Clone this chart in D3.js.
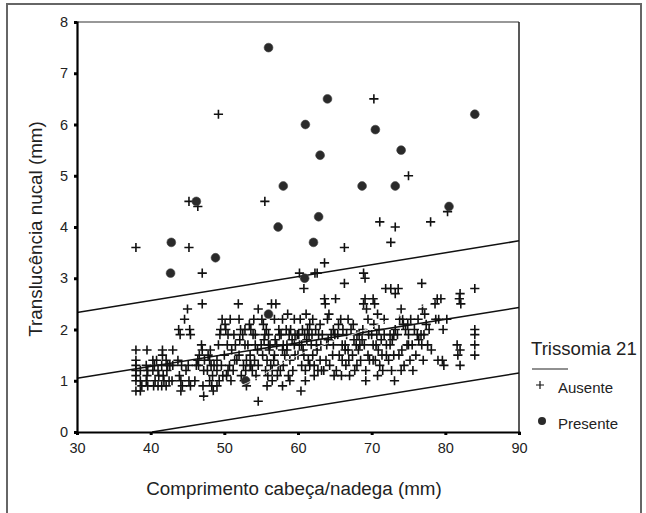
<!DOCTYPE html>
<html>
<head>
<meta charset="utf-8">
<script src="https://cdn.jsdelivr.net/npm/d3@7"></script>
<style>
  html, body { margin: 0; padding: 0; background: #fff; }
  svg { display: block; font-family: "Liberation Sans", Arial, sans-serif; }
</style>
</head>
<body>
<svg id="chart" width="646" height="513"></svg>
<script>
// ---------- DATA ----------
const xTicks = [30, 40, 50, 60, 70, 80, 90];
const yTicks = [0, 1, 2, 3, 4, 5, 6, 7, 8];

// Trissomia 21 = Ausente (CRL mm, NT mm)
const ausente = [
  [38,3.6],[45.2,4.5],[46.4,4.4],[45.2,3.6],[47,3.1],[49.2,6.2],[55.5,4.5],
  [60.2,3.1],[62.3,3.1],[62.6,3.1],[63.6,3.3],[66.3,3.6],[60.8,2.8],
  [70.3,6.5],[75,5.0],[71.1,4.1],[73.2,4.0],[72.6,3.7],[78,4.1],[80.3,4.3],[68.9,3.1],[69.1,3.0],
  [47,2.5],
  [38,1.6],[38,1.4],[38,1.3],[38,1.2],[38,1.1],[38,1.0],[38,0.8],[38.6,1.2],[38.6,1.0],[38.6,0.8],[38.8,0.9],
  [39.5,1.6],[39.4,1.3],[39.6,1.2],[39.5,1.1],[39.4,1.0],[39.6,0.9],
  [40.3,1.4],[40.5,1.3],[40.3,1.2],[40.6,1.0],[40.4,0.9],[41,1.2],[41.1,1.1],[41,0.9],[40.8,1.4],
  [41.6,1.6],[41.6,1.5],[41.5,1.3],[41.7,1.1],[41.5,0.9],[41.8,1.0],
  [42.1,1.4],[42.3,1.3],[42.2,1.2],[42.5,1.0],[42.1,0.9],[42.6,1.3],
  [43,1.6],[43,1.3],[42.9,1.0],
  [43.8,2.0],[44,1.9],[43.7,1.4],[44.2,1.3],[43.9,1.1],[44.1,1.0],[44.1,0.8],[44.3,0.9],
  [45.3,2.0],[45.4,1.9],[45,2.4],[44.6,2.2],[45.1,1.3],[45.2,1.0],[45.4,0.9],[44.8,1.2],
  [46.9,1.7],[47,1.6],[46.6,1.5],[46.4,1.4],[46.2,1.3],[47.2,1.2],[47.3,1.4],[46.5,1.3],[47.1,0.9],[47.2,0.7],
  [47.8,1.5],[48,1.4],[48.2,1.3],[47.7,1.2],[48.4,1.1],[48,1.0],[48.3,0.9],[48.5,0.8],[48.6,1.3],[48.1,1.6],
  [49.5,2.0],[49.4,1.9],[49.2,1.7],[49,1.4],[49.6,1.3],[49.8,1.1],[49.3,1.0],[49.7,2.2],
  [50.8,2.2],[50.2,2.0],[50.5,1.9],[50.4,1.7],[51,1.6],[50.7,1.3],[51.2,1.2],[50.3,1.1],[50.9,1.0],[51.3,1.9],[50.1,2.1],
  [51.9,2.5],[52.2,2.0],[52.5,1.9],[52.8,1.7],[52,1.5],[51.7,1.4],[52.6,1.3],[52.9,1.2],[52.3,1.1],[52.7,1.0],[53,0.9],[52.1,1.8],[52.8,2.0],
  [53.4,2.1],[53.6,2.0],[53.9,1.9],[54.2,1.7],[54.5,1.6],[53.5,1.5],[54.1,1.4],[54.6,1.3],[53.8,1.2],[54.3,1.1],[54.6,0.6],[54.6,2.4],[54.2,1.9],[53.6,1.3],
  [55.1,2.2],[55.3,2.1],[55.7,2.0],[56,1.9],[55.4,1.8],[56.2,1.7],[55.2,1.5],[55.8,1.4],[56.3,1.3],[55.6,1.2],[55.9,1.1],[55.8,0.9],[56.4,2.5],[56.1,1.6],[55.5,1.9],
  [57,2.5],[56.8,2.2],[57.4,2.0],[57.7,1.9],[57.1,1.7],[57.9,1.6],[56.7,1.4],[57.3,1.3],[57.6,1.2],[57.2,1.1],[57.9,0.9],[57.5,1.9],[56.9,1.8],
  [58.6,2.3],[58.4,2.0],[58.8,1.9],[59.2,1.8],[59.5,1.7],[58.5,1.6],[59.6,1.5],[58.9,1.4],[59.3,1.2],[58.7,1.1],[59,2.0],[59.6,1.9],
  [61.1,2.3],[60.3,2.2],[60.6,2.0],[60.9,1.9],[61.2,1.8],[60.2,1.7],[60.8,1.5],[61.4,1.4],[60.5,1.3],[61,1.2],[61,1.0],[60.4,0.8],[60.1,1.9],[61.3,2.0],[60.7,1.6],
  [62,2.2],[62.4,2.0],[62.8,1.9],[61.8,1.7],[62.6,1.6],[63,1.4],[62.2,1.3],[62.7,1.2],[61.9,1.9],[63.1,1.7],
  [63.6,2.6],[63.7,2.5],[64.2,2.3],[64,2.2],[64.5,1.9],[63.9,1.7],[64.7,1.5],[64.3,1.3],[63.5,1.2],[64.8,2.0],[64.1,1.8],
  [65.1,2.6],[65.8,2.2],[66.1,2.0],[65.4,1.9],[66.4,1.7],[65.6,1.5],[66,1.4],[65.2,1.2],[65.9,1.1],[66.3,2.9],[66.4,1.6],
  [66.8,2.2],[67.2,2.0],[67.6,1.8],[67.9,1.7],[67.4,1.5],[66.9,1.4],[67.7,1.2],[68,1.9],
  [69.1,2.6],[68.9,2.5],[69.3,2.4],[69.6,1.9],[68.7,1.8],[69,1.7],[69.5,1.5],[68.5,1.4],[69.2,1.2],[69.2,1.0],[68.8,2.0],[69.7,1.4],
  [70.2,2.6],[70.4,2.5],[70.8,2.3],[70.3,2.1],[71,2.0],[71.3,1.8],[70.6,1.7],[70.9,1.6],[71.4,1.5],[70.2,1.4],[71.1,1.3],[70.7,1.9],
  [71.9,2.8],[72.5,1.9],[72.8,1.8],[72,1.7],[73,1.5],[72.3,1.4],[72.7,1.2],[73.1,1.0],[73.2,2.7],[72.6,2.8],
  [73.6,2.8],[74,2.4],[73.8,2.2],[74.3,2.1],[74.6,2.0],[73.5,1.9],[74.8,1.7],[74.1,1.6],[73.7,1.5],[74.4,1.3],[74.2,2.2],[74.9,2.1],
  [75.3,2.2],[75.8,2.0],[76.2,1.9],[75.5,1.7],[76,1.5],[75.6,1.2],[76.4,1.8],
  [76.8,2.9],[76.9,2.4],[77.4,2.1],[77.8,2.0],[77.1,1.9],[77.6,1.7],[78.1,1.6],[77.2,2.3],
  [78.9,2.6],[79.4,2.6],[78.6,2.5],[79.1,2.2],[79.7,2.0],[79,1.4],[79.8,1.3],[79.6,1.4],[78.7,2.2],[80.2,2.2],
  [82,2.7],[81.9,2.6],[82.1,2.5],[81.6,1.7],[82,1.6],[81.7,1.5],[82,1.3],
  [84,2.8],[84,2.0],[84,1.9],[84,1.7],[84,1.5],
  // extra points in the dense band
  [51.5,1.7],[53.2,1.7],[55,1.7],[58,1.7],[59.9,1.9],[61.5,1.9],[63.3,1.9],[65,1.9],[66.6,1.9],
  [68.3,1.9],[70,1.9],[71.7,1.9],[73,1.9],[75,1.9],[76.7,1.9],
  [56,1.7],[58.5,1.7],[60.5,1.7],[62.5,1.7],[64.8,1.7],[66,1.7],[68.4,1.7],[70.2,1.7],[72.5,1.7],[75,1.7],[76.8,1.7],
  [50,1.5],[51.4,1.4],[53,1.4],[56.8,1.5],[58.2,1.5],[60,1.5],[62,1.5],[63.8,1.4],[66.8,1.6],[68.2,1.6],
  [70.5,1.4],[72,1.5],[75.2,1.4],[77,1.4],
  [49,1.2],[50.5,1.2],[53.5,1.3],[56.5,1.2],[58,1.3],[61.6,1.3],[63.2,1.2],[66.5,1.3],[68,1.3],[71.5,1.2],[74,1.2],
  [46,1.0],[49,0.9],[56.5,1.0],[58.9,1.0],[62.2,1.1],[64.9,1.1],[67,1.1],[70.8,1.1],
  [52,2.2],[54,2.2],[57.9,2.2],[59.5,2.2],[61.6,2.1],[63,2.1],[65.5,2.1],[67.5,2.1],[69.5,2.2],[71.7,2.2],[73.2,2.0],[76.3,2.2]
];

// Trissomia 21 = Presente
const presente = [
  [56,7.5],[64,6.5],[61,6.0],[70.5,5.9],[84,6.2],[74,5.5],[63,5.4],[58,4.8],[68.7,4.8],[73.2,4.8],
  [46.2,4.5],[80.5,4.4],[62.8,4.2],[57.3,4.0],[42.8,3.7],[62.1,3.7],[48.8,3.4],[42.7,3.1],[60.9,3.0],
  [56,2.3],[52.9,1.0]
];

// Regression line and bounds (endpoints in data units)
const upperLine = [[30, 2.33], [90, 3.73]];
const meanLine  = [[30, 1.05], [90, 2.43]];
const lowerLine = [[40.2, 0.0], [90, 1.15]];
// faint white smoother visible only over the markers
const whiteLine = [[47.2, 0.65], [53, 0.95], [60, 1.5], [68.5, 1.96], [78.5, 2.55]];

// ---------- DRAW ----------
const svg = d3.select("#chart");
const x = d3.scaleLinear().domain([30, 90]).range([77, 519]);
const y = d3.scaleLinear().domain([0, 8]).range([432, 22]);

// outer border
svg.append("rect").attr("x", 7).attr("y", 4).attr("width", 634).attr("height", 530)
  .attr("fill", "none").attr("stroke", "#666").attr("stroke-width", 2);

// frame top/right
svg.append("line").attr("x1", x(30)).attr("x2", x(90)).attr("y1", y(8)).attr("y2", y(8))
  .attr("stroke", "#333").attr("stroke-width", 1.2);
svg.append("line").attr("x1", x(90)).attr("x2", x(90)).attr("y1", y(8)).attr("y2", y(0))
  .attr("stroke", "#222").attr("stroke-width", 1.5);

// lines
const lineGen = d3.line().x(d => x(d[0])).y(d => y(d[1]));
[upperLine, meanLine, lowerLine].forEach(l => {
  svg.append("path").attr("d", lineGen(l)).attr("fill", "none")
    .attr("stroke", "#111").attr("stroke-width", 1.5);
});

// ausente markers (plus)
const plusSize = 4.6;
svg.append("g").selectAll("path").data(ausente).join("path")
  .attr("d", d => {
    const cx = x(d[0]), cy = y(d[1]);
    return `M${cx - plusSize},${cy}H${cx + plusSize}M${cx},${cy - plusSize}V${cy + plusSize}`;
  })
  .attr("stroke", "#111").attr("stroke-width", 1.6).attr("fill", "none");

// presente markers
svg.append("g").selectAll("circle").data(presente).join("circle")
  .attr("cx", d => x(d[0])).attr("cy", d => y(d[1])).attr("r", 4.4)
  .attr("fill", "#2a2a2a").attr("stroke", "#444").attr("stroke-width", 0.6);

// white smoother
svg.append("path").attr("d", d3.line().curve(d3.curveMonotoneX).x(d => x(d[0])).y(d => y(d[1]))(whiteLine))
  .attr("fill", "none").attr("stroke", "#fff").attr("stroke-width", 1).attr("opacity", 0.8);

// axes
const yAxis = d3.axisLeft(y).tickValues(yTicks).tickSize(3).tickPadding(6).tickFormat(d3.format("d"));
const xAxis = d3.axisBottom(x).tickValues(xTicks).tickSize(3).tickPadding(8).tickFormat(d3.format("d"));

const gy = svg.append("g").attr("transform", `translate(${x(30)},0)`).call(yAxis);
const gx = svg.append("g").attr("transform", `translate(0,${y(0)})`).call(xAxis);
[gx, gy].forEach(g => {
  g.select(".domain").attr("stroke", "#000").attr("stroke-width", 2.2);
  g.selectAll(".tick line").attr("stroke", "#000").attr("stroke-width", 3);
  g.selectAll(".tick text").attr("fill", "#222").style("font-size", "14.5px")
    .style("font-family", "'Liberation Sans', Arial, sans-serif");
});

// axis titles
svg.append("text").attr("x", 294).attr("y", 495).attr("text-anchor", "middle")
  .attr("fill", "#222").style("font-size", "18.8px").text("Comprimento cabeça/nadega (mm)");
svg.append("text").attr("transform", `translate(42,229) rotate(-90)`).attr("text-anchor", "middle")
  .attr("fill", "#222").style("font-size", "18.8px").text("Translucência nucal (mm)");

// legend
const lg = svg.append("g");
lg.append("text").attr("x", 531).attr("y", 355).attr("fill", "#222").style("font-size", "18.6px").text("Trissomia 21");
lg.append("line").attr("x1", 532).attr("x2", 568).attr("y1", 369).attr("y2", 369).attr("stroke", "#222").attr("stroke-width", 1.2);
lg.append("path").attr("d", "M536,385H544M540,381V389").attr("stroke", "#111").attr("stroke-width", 1.2);
lg.append("text").attr("x", 558).attr("y", 393).attr("fill", "#222").style("font-size", "15px").text("Ausente");
lg.append("circle").attr("cx", 542).attr("cy", 421).attr("r", 4).attr("fill", "#2a2a2a");
lg.append("text").attr("x", 558).attr("y", 429).attr("fill", "#222").style("font-size", "15px").text("Presente");
</script>
</body>
</html>
